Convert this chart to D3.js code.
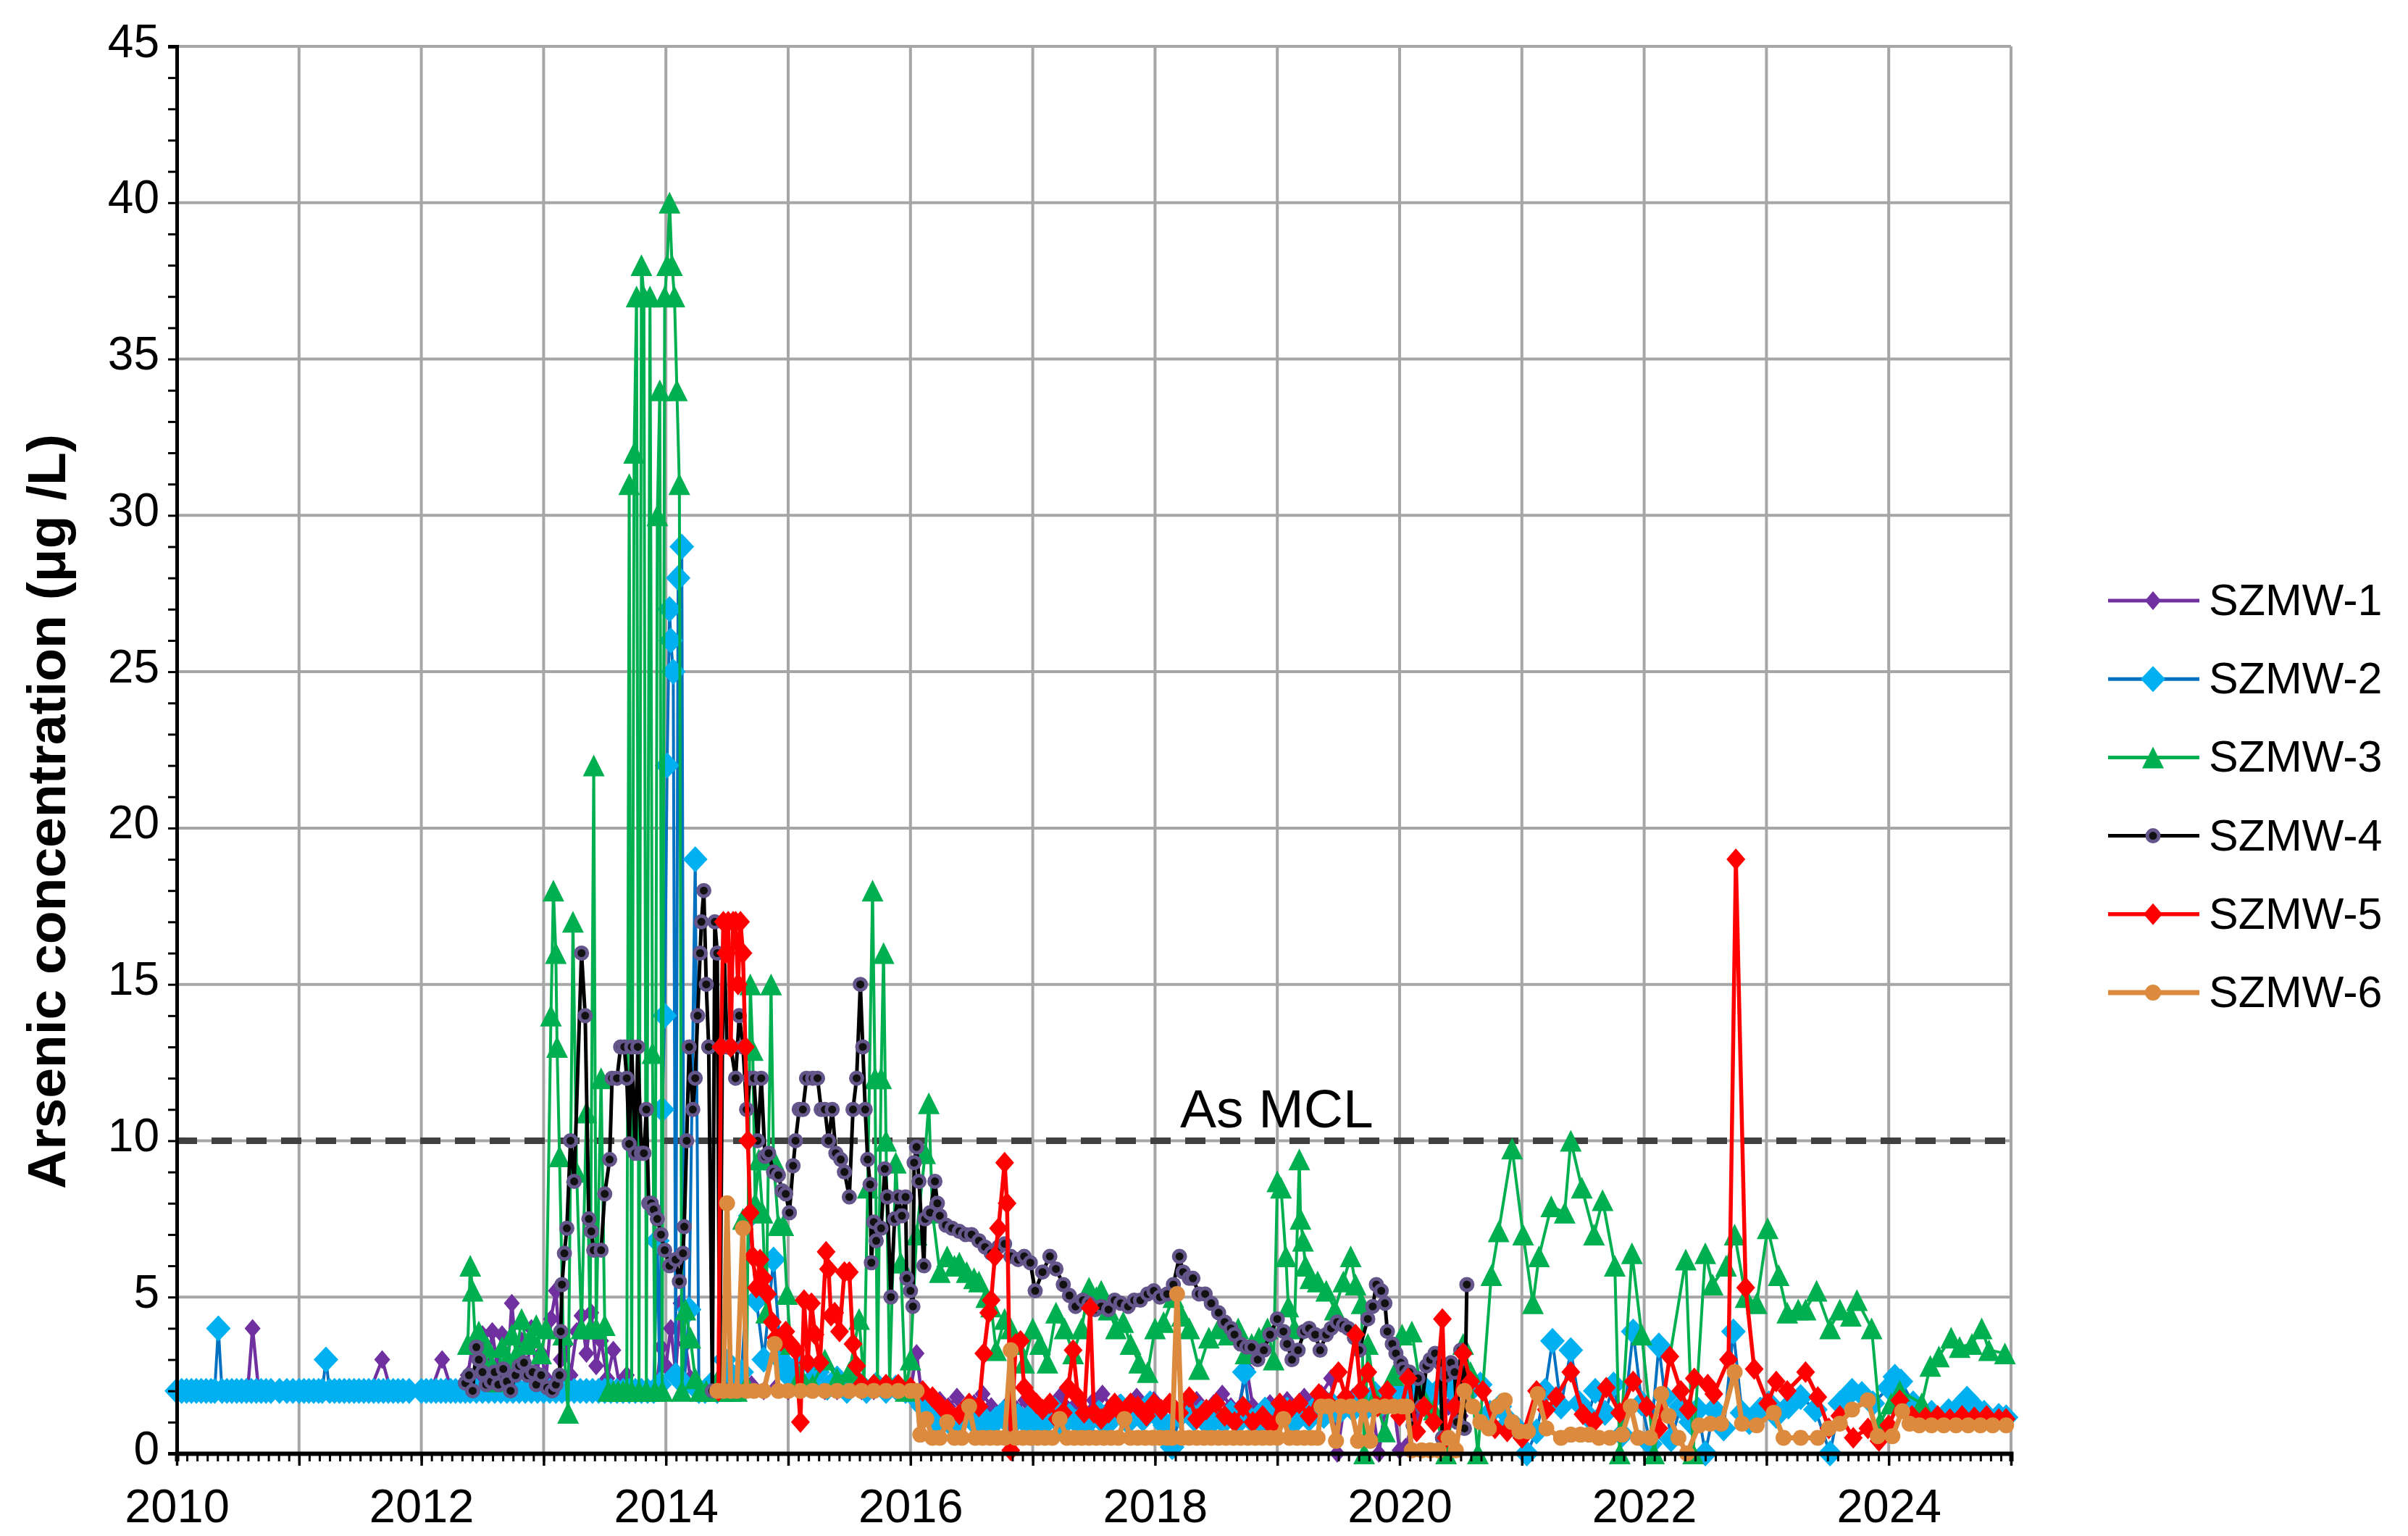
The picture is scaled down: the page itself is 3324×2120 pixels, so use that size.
<!DOCTYPE html>
<html>
<head>
<meta charset="utf-8">
<script src="https://cdn.jsdelivr.net/npm/d3@7"></script>
<style>
  body { margin: 0; background: #ffffff; }
  text { font-family: "Liberation Sans", Arial, sans-serif; fill: #000; }
</style>
</head>
<body>
<svg id="chart" width="3324" height="2120"></svg>
<script>
// Valores: [año decimal, µg/L]
const szmw1 = [
  [2010.00,2],[2010.08,2],[2010.17,2],[2010.25,2],[2010.33,2],[2010.42,2],[2010.50,2],[2010.58,2],[2010.62,4],[2010.67,2],[2010.75,2],[2010.83,2],[2010.92,2],
  [2011.00,2],[2011.08,2],[2011.17,2],[2011.25,2],[2011.33,2],[2011.42,2],[2011.50,2],[2011.58,2],[2011.68,3],[2011.75,2],[2011.83,2],[2011.92,2],
  [2012.00,2],[2012.08,2],[2012.17,3],[2012.25,2],[2012.33,2],[2012.38,2.5],[2012.42,3.5],[2012.46,2.2],[2012.50,3.8],[2012.54,2.5],[2012.58,3.9],[2012.62,2.8],[2012.66,3.8],[2012.70,2.4],[2012.74,4.8],[2012.78,3.0],[2012.82,3.6],[2012.86,2.5],[2012.90,4.0],[2012.94,2.6],[2012.98,3.2],
  [2013.02,2.4],[2013.06,4.3],[2013.10,5.2],[2013.14,3.0],[2013.18,3.5],[2013.22,2.5],[2013.27,3.9],[2013.31,4.4],[2013.35,3.2],[2013.39,4.5],[2013.43,2.8],[2013.47,3.6],[2013.52,2.4],[2013.57,3.3],[2013.62,2.2],[2013.68,2.5],[2013.74,2.0],[2013.80,2.1],[2013.86,2.0],[2013.92,2.0],[2013.96,3.4],
  [2014.00,2.8],[2014.04,4.0],[2014.08,2.6],[2014.12,4.8],[2014.16,3.5],[2014.20,2.4],[2014.26,2.0],[2014.34,2.0],[2014.42,2.0],[2014.50,2.1],[2014.60,2.0],[2014.70,2.2],[2014.80,2.0],[2014.90,2.1],
  [2015.00,2.0],[2015.10,2.0],[2015.20,2.1],[2015.30,2.0],[2015.40,2.0],[2015.50,2.1],[2015.60,2.0],[2015.70,2.0],[2015.80,2.1],[2015.90,2.0],[2016.00,2.0],[2016.05,3.2],
  [2016.10,1.6],[2016.17,1.4],[2016.24,1.7],[2016.31,1.5],[2016.38,1.8],[2016.45,1.4],[2016.52,1.6],[2016.59,1.9],[2016.66,1.5],[2016.73,1.3],[2016.80,1.6],[2016.87,1.4],[2016.94,1.7],
  [2017.01,1.5],[2017.08,1.3],[2017.15,1.6],[2017.22,1.8],[2017.29,1.4],[2017.36,1.6],[2017.43,1.3],[2017.50,1.7],[2017.57,1.9],[2017.64,1.5],[2017.71,1.6],[2017.78,1.4],[2017.85,1.8],[2017.92,1.5],[2017.99,1.7],
  [2018.06,1.4],[2018.13,1.6],[2018.20,1.3],[2018.27,1.5],[2018.34,1.7],[2018.41,1.4],[2018.48,1.6],[2018.55,1.9],[2018.62,1.5],[2018.68,1.4],[2018.75,2.7],[2018.80,1.5],[2018.87,1.3],[2018.94,1.6],
  [2019.01,1.4],[2019.08,1.7],[2019.15,1.5],[2019.22,1.8],[2019.29,1.6],[2019.36,1.9],[2019.44,2.4],[2019.49,0.0],[2019.55,1.6],[2019.62,1.8],[2019.70,1.5],[2019.78,1.4],[2019.83,0.0],[2019.88,1.4],[2019.95,1.6],
  [2020.00,0.1],[2020.05,0.2],[2020.12,1.2],[2020.20,1.5],[2020.30,1.8],[2020.40,1.5],[2020.50,1.2]
];

const szmw2 = [
  [2010.00,2],[2010.04,2],[2010.08,2],[2010.12,2],[2010.16,2],[2010.20,2],[2010.24,2],[2010.28,2],[2010.31,2],[2010.34,4],[2010.37,2],[2010.41,2],[2010.45,2],[2010.49,2],[2010.53,2],[2010.57,2],[2010.61,2],[2010.65,2],[2010.69,2],[2010.73,2],[2010.77,2],[2010.84,2],[2010.90,2],[2010.95,2],
  [2011.00,2],[2011.04,2],[2011.08,2],[2011.12,2],[2011.16,2],[2011.19,2],[2011.22,3],[2011.25,2],[2011.29,2],[2011.33,2],[2011.37,2],[2011.41,2],[2011.45,2],[2011.49,2],[2011.53,2],[2011.57,2],[2011.61,2],[2011.65,2],[2011.69,2],[2011.73,2],[2011.77,2],[2011.81,2],[2011.85,2],[2011.90,2],
  [2012.00,2],[2012.04,2],[2012.08,2],[2012.12,2],[2012.16,2],[2012.20,2],[2012.24,2],[2012.28,2],[2012.32,2],[2012.36,2],[2012.40,2],[2012.45,2],[2012.50,2],[2012.55,2],[2012.60,2],[2012.65,2],[2012.70,2],[2012.75,2],[2012.80,2],[2012.85,2],[2012.90,2],[2012.95,2],
  [2013.00,2],[2013.05,2],[2013.10,2],[2013.15,2],[2013.20,2],[2013.25,2],[2013.30,2],[2013.35,2],[2013.40,2],[2013.45,2],[2013.50,2],[2013.55,2],[2013.60,2],[2013.65,2],[2013.70,2],[2013.75,2],[2013.80,2],[2013.85,2],[2013.90,2],
  [2013.93,6.8],[2013.95,2.2],[2013.97,11],[2013.99,14],[2014.01,22],[2014.03,27],[2014.04,26],[2014.06,25],[2014.08,2.5],[2014.10,28],[2014.13,29],[2014.15,2.2],[2014.19,4.6],[2014.24,19],[2014.27,2],
  [2014.32,2],[2014.37,2.2],[2014.42,2],[2014.48,3],[2014.54,2.5],[2014.62,2.6],[2014.69,7.6],[2014.74,4.9],[2014.80,3],[2014.88,6.2],[2014.94,3],
  [2015.00,2.5],[2015.08,2.8],[2015.16,2.2],[2015.24,2.6],[2015.32,2.1],[2015.40,2.4],[2015.48,2.0],[2015.56,2.3],[2015.64,2.0],[2015.72,2.2],[2015.80,2.0],[2015.88,2.1],[2015.96,2.0],[2016.04,1.8],
  [2016.10,1.5],[2016.16,1.2],[2016.22,1.0],[2016.28,1.3],[2016.34,0.9],[2016.40,1.1],[2016.46,1.4],[2016.52,1.0],[2016.58,1.2],[2016.64,0.8],[2016.70,1.1],[2016.76,1.3],[2016.82,0.9],[2016.88,1.2],[2016.94,1.0],
  [2017.00,1.3],[2017.06,0.8],[2017.12,1.1],[2017.18,1.4],[2017.24,0.9],[2017.30,1.2],[2017.36,1.0],[2017.42,0.7],[2017.48,1.1],[2017.54,1.3],[2017.60,0.9],[2017.66,1.2],[2017.72,1.5],[2017.78,1.0],[2017.84,1.3],[2017.90,1.1],[2017.96,1.6],
  [2018.02,1.2],[2018.08,0.9],[2018.14,0.2],[2018.20,1.2],[2018.26,1.4],[2018.32,1.1],[2018.38,1.3],[2018.44,0.9],[2018.50,1.2],[2018.56,1.0],[2018.62,1.3],[2018.68,1.0],[2018.73,2.6],[2018.78,1.1],[2018.84,0.9],[2018.90,1.4],[2018.96,1.1],
  [2019.02,1.2],[2019.08,1.4],[2019.14,1.0],[2019.20,1.3],[2019.26,1.1],[2019.32,1.5],[2019.38,1.2],[2019.44,1.6],[2019.50,1.3],[2019.56,1.7],[2019.62,1.4],[2019.68,1.8],[2019.74,1.5],[2019.80,1.9],[2019.86,1.6],[2019.92,1.8],[2019.98,2.0],
  [2020.05,1.7],[2020.12,1.9],[2020.20,2.1],[2020.28,1.8],[2020.36,2.2],[2020.44,2.0],[2020.52,2.4],[2020.60,2.1],[2020.66,2.2],[2020.74,1.3],[2020.82,1.5],[2020.90,1.0],[2020.96,0.8],
  [2021.04,0.0],[2021.12,0.7],[2021.19,2.0],[2021.25,3.6],[2021.32,1.5],[2021.40,3.3],[2021.47,1.6],[2021.54,1.2],[2021.60,2.0],[2021.68,1.3],[2021.75,2.2],[2021.82,0.6],[2021.91,3.9],[2021.98,1.6],
  [2022.05,0.3],[2022.12,3.45],[2022.17,1.8],[2022.22,0.45],[2022.30,1.5],[2022.38,1.0],[2022.44,1.4],[2022.50,0.0],[2022.57,1.4],[2022.65,0.8],[2022.73,3.9],[2022.80,1.3],[2022.86,1.0],[2022.95,1.4],
  [2023.02,1.6],[2023.08,1.2],[2023.18,1.5],[2023.28,1.8],[2023.40,1.4],[2023.52,0.0],[2023.60,1.6],[2023.70,2.0],[2023.78,1.9],[2023.87,1.6],
  [2024.00,2.1],[2024.05,2.45],[2024.10,2.3],[2024.20,1.6],[2024.35,1.3],[2024.49,1.35],[2024.58,1.5],[2024.64,1.75],[2024.70,1.5],[2024.78,1.3],[2024.90,1.2],[2024.96,1.15]
];

const szmw3 = [
  [2012.38,3.5],[2012.40,6.0],[2012.42,5.2],[2012.44,3.7],[2012.47,3.9],[2012.50,3.0],[2012.54,3.4],[2012.58,2.8],[2012.62,2.3],[2012.66,3.4],[2012.70,3.0],[2012.74,3.8],[2012.78,3.2],[2012.82,4.3],[2012.86,3.5],[2012.90,3.7],[2012.94,4.1],[2012.98,3.2],
  [2013.02,4.0],[2013.06,14],[2013.08,18],[2013.10,16],[2013.11,13],[2013.13,9.5],[2013.16,3.8],[2013.20,1.3],[2013.24,17],[2013.27,9.0],[2013.31,4.0],[2013.35,10.9],[2013.38,4.0],[2013.41,22],[2013.43,4.0],[2013.47,12],[2013.50,4.1],
  [2013.53,2],[2013.57,2],[2013.61,2],[2013.65,2],[2013.68,2],[2013.70,31],[2013.72,2],[2013.74,32],[2013.76,37],[2013.78,2],[2013.80,38],[2013.82,37],[2013.84,2],[2013.87,37],[2013.89,12.8],[2013.91,2],[2013.93,30],[2013.95,34],[2013.97,2],
  [2013.99,37],[2014.01,38],[2014.03,40],[2014.05,38],[2014.07,37],[2014.09,34],[2014.11,31],[2014.13,2],[2014.16,4.6],[2014.20,3.7],[2014.24,2.4],[2014.28,2],
  [2014.33,2],[2014.38,2],[2014.43,2.4],[2014.48,2],[2014.53,2],[2014.58,2],[2014.63,7.5],[2014.66,2.2],[2014.69,15],[2014.71,12.9],[2014.73,8],[2014.76,9.4],[2014.79,7.7],[2014.82,4.5],[2014.86,15],[2014.88,9.4],[2014.92,7.3],[2014.96,7.3],[2014.99,5.1],
  [2015.02,3.5],[2015.10,2.5],[2015.20,2.2],[2015.30,3.0],[2015.40,2.4],[2015.50,2.6],[2015.58,4.3],[2015.62,2.2],[2015.65,8.5],[2015.69,18],[2015.71,12],[2015.73,2.2],[2015.76,12],[2015.78,16],[2015.80,10],[2015.83,2.2],[2015.88,9.3],[2015.92,6.1],[2015.96,2.0],
  [2016.00,3.0],[2016.05,7.0],[2016.12,9.6],[2016.15,11.2],[2016.18,7.7],[2016.24,5.8],[2016.30,6.3],[2016.36,6.0],[2016.40,6.1],[2016.46,5.8],[2016.52,5.6],[2016.56,5.5],[2016.62,5.0],[2016.66,4.7],[2016.70,3.3],[2016.77,4.3],[2016.82,4.0],[2016.87,3.5],[2016.93,2.9],
  [2017.00,4.0],[2017.06,3.5],[2017.12,2.9],[2017.19,4.5],[2017.26,4.0],[2017.33,3.2],[2017.40,4.0],[2017.46,5.3],[2017.52,5.0],[2017.56,5.2],[2017.62,4.6],[2017.68,4.0],[2017.74,4.2],[2017.80,3.5],[2017.87,2.9],[2017.94,2.6],
  [2018.00,4.0],[2018.07,4.2],[2018.15,5.0],[2018.22,4.4],[2018.28,4.0],[2018.36,2.7],[2018.44,3.7],[2018.52,4.0],[2018.60,3.8],[2018.68,4.0],[2018.74,3.2],[2018.79,3.5],[2018.85,3.7],[2018.92,4.0],[2018.97,3.0],
  [2019.00,8.7],[2019.03,8.5],[2019.07,6.3],[2019.09,4.7],[2019.14,4.0],[2019.18,9.4],[2019.19,7.5],[2019.21,6.8],[2019.23,6.0],[2019.27,5.6],[2019.33,5.5],[2019.40,5.2],[2019.47,4.6],[2019.54,5.5],[2019.60,6.3],[2019.64,5.4],[2019.69,4.8],[2019.71,0.0],[2019.74,3.5],[2019.80,1.8],[2019.88,0.7],[2019.95,2.5],
  [2020.02,3.8],[2020.10,3.9],[2020.18,1.9],[2020.28,1.4],[2020.38,0.0],[2020.52,3.5],[2020.58,2.6],[2020.64,0.0],[2020.75,5.7],[2020.81,7.1],[2020.92,9.75],
  [2021.01,7.0],[2021.09,4.8],[2021.14,6.3],[2021.24,7.9],[2021.35,7.7],[2021.40,10.0],[2021.49,8.5],[2021.59,7.0],[2021.66,8.1],[2021.76,6.0],[2021.80,0.0],[2021.90,6.4],[2021.98,3.8],
  [2022.08,0.0],[2022.34,6.2],[2022.40,0.0],[2022.50,6.4],[2022.56,5.4],[2022.67,6.0],[2022.74,7.0],[2022.83,5.0],[2022.92,4.8],
  [2023.01,7.2],[2023.10,5.7],[2023.17,4.5],[2023.26,4.6],[2023.32,4.6],[2023.41,5.2],[2023.52,4.0],[2023.60,4.6],[2023.69,4.4],[2023.74,4.9],[2023.86,4.0],[2023.93,1.0],
  [2024.02,1.6],[2024.09,2.0],[2024.27,1.6],[2024.34,2.8],[2024.41,3.1],[2024.51,3.7],[2024.58,3.4],[2024.68,3.5],[2024.76,4.0],[2024.82,3.3],[2024.95,3.2]
];

const szmw4 = [
  [2012.36,2.25],[2012.39,2.5],[2012.42,2.0],[2012.45,3.4],[2012.47,3.0],[2012.50,2.6],[2012.53,2.2],[2012.57,2.3],[2012.60,2.6],[2012.63,2.2],[2012.67,2.7],[2012.70,2.3],[2012.73,2.0],[2012.77,2.5],[2012.80,2.8],[2012.84,2.9],[2012.87,2.5],[2012.91,2.6],[2012.94,2.2],[2012.98,2.5],
  [2013.03,2.1],[2013.07,2.0],[2013.10,2.2],[2013.13,2.5],[2013.14,3.9],[2013.15,5.4],[2013.17,6.4],[2013.19,7.2],[2013.22,10],[2013.25,8.7],[2013.31,16],[2013.34,14],[2013.37,7.5],[2013.39,7.1],[2013.41,6.5],[2013.47,6.5],[2013.50,8.3],[2013.54,9.4],[2013.56,12],[2013.60,12],
  [2013.63,13],[2013.66,13],[2013.68,12],[2013.70,9.9],[2013.72,13],[2013.75,9.6],[2013.77,13],[2013.80,9.6],[2013.82,9.6],[2013.84,11],[2013.86,8.0],[2013.88,8.0],[2013.90,7.8],[2013.93,7.5],[2013.96,7.0],[2013.99,6.5],
  [2014.03,6.0],[2014.08,6.2],[2014.11,5.5],[2014.14,6.4],[2014.15,7.25],[2014.17,10],[2014.19,13],[2014.22,11],[2014.24,12],[2014.26,14],[2014.28,16],[2014.29,17],[2014.31,18],[2014.33,15],[2014.35,13],[2014.38,2],[2014.40,17],[2014.42,16],[2014.44,2],[2014.47,17],
  [2014.50,13],[2014.53,13],[2014.57,12],[2014.60,14],[2014.63,13],[2014.66,11],[2014.69,12],[2014.72,12],[2014.75,10],[2014.78,12],[2014.81,9.5],[2014.84,9.6],[2014.88,9.0],[2014.92,8.9],[2014.95,8.4],[2014.98,8.3],
  [2015.01,7.7],[2015.04,9.2],[2015.06,10],[2015.09,11],[2015.12,11],[2015.15,12],[2015.20,12],[2015.24,12],[2015.27,11],[2015.30,11],[2015.33,10],[2015.36,11],[2015.39,9.6],[2015.43,9.4],[2015.46,9.0],[2015.50,8.2],[2015.53,11],[2015.56,12],[2015.59,15],[2015.61,13],[2015.63,11],[2015.65,9.4],[2015.67,8.6],[2015.68,6.1],[2015.70,7.4],[2015.72,6.8],[2015.76,7.2],[2015.79,9.1],[2015.81,8.2],[2015.84,5.0],[2015.87,7.5],[2015.90,8.2],[2015.93,7.6],[2015.96,8.2],[2015.97,5.6],
  [2016.00,5.2],[2016.02,4.7],[2016.03,9.3],[2016.05,9.8],[2016.07,8.7],[2016.11,6.0],[2016.12,7.5],[2016.16,7.7],[2016.20,8.7],[2016.22,8.0],[2016.24,7.6],[2016.29,7.3],[2016.34,7.2],[2016.40,7.1],[2016.45,7.0],[2016.50,7.0],[2016.56,6.8],[2016.61,6.6],[2016.66,6.4],[2016.72,6.6],[2016.77,6.7],[2016.82,6.3],[2016.88,6.2],[2016.93,6.3],[2016.98,6.1],
  [2017.02,5.2],[2017.08,5.8],[2017.14,6.3],[2017.19,5.9],[2017.25,5.4],[2017.30,5.05],[2017.35,4.7],[2017.41,4.9],[2017.46,4.8],[2017.51,4.6],[2017.56,4.7],[2017.62,4.6],[2017.67,4.9],[2017.72,4.8],[2017.78,4.7],[2017.83,4.9],[2017.88,4.9],[2017.94,5.1],[2017.99,5.2],
  [2018.04,5.0],[2018.10,5.1],[2018.15,5.4],[2018.20,6.3],[2018.23,5.8],[2018.28,5.6],[2018.31,5.6],[2018.36,5.1],[2018.41,5.1],[2018.46,4.8],[2018.52,4.5],[2018.57,4.2],[2018.62,4.0],[2018.65,3.8],[2018.70,3.5],[2018.75,3.4],[2018.79,3.4],[2018.84,3.0],[2018.89,3.3],[2018.94,3.8],
  [2019.00,4.3],[2019.05,3.9],[2019.08,3.5],[2019.12,3.0],[2019.17,3.3],[2019.22,3.9],[2019.26,4.0],[2019.31,3.8],[2019.35,3.3],[2019.40,3.8],[2019.44,4.0],[2019.49,4.2],[2019.54,4.1],[2019.58,4.0],[2019.63,3.7],[2019.67,3.3],[2019.74,4.3],[2019.78,4.7],[2019.81,5.4],[2019.85,5.2],[2019.88,4.8],[2019.90,3.9],[2019.94,3.5],[2019.97,3.2],
  [2020.01,2.9],[2020.03,2.7],[2020.06,2.5],[2020.08,2.6],[2020.11,0.9],[2020.15,2.4],[2020.18,1.5],[2020.22,2.8],[2020.25,3.0],[2020.29,3.2],[2020.33,2.9],[2020.35,0.5],[2020.38,2.5],[2020.42,2.9],[2020.45,2.6],[2020.47,1.0],[2020.50,3.3],[2020.53,0.8],[2020.55,5.4]
];

const szmw5 = [
  [2014.43,2],[2014.45,13],[2014.47,17],[2014.49,16],[2014.51,17],[2014.53,13],[2014.55,17],[2014.57,17],[2014.59,15],[2014.61,17],[2014.63,16],[2014.65,13],[2014.67,10],[2014.69,7.7],[2014.71,6.3],[2014.74,5.3],[2014.77,6.2],[2014.80,5.6],[2014.83,5.1],[2014.87,4.2],[2014.90,3.7],[2014.94,3.6],[2014.98,3.9],
  [2015.02,3.5],[2015.06,3.3],[2015.10,1.0],[2015.13,4.9],[2015.16,2.9],[2015.19,4.8],[2015.22,3.8],[2015.26,2.9],[2015.31,6.45],[2015.33,5.9],[2015.35,4.4],[2015.38,4.5],[2015.42,3.9],[2015.46,5.8],[2015.50,5.8],[2015.53,3.5],[2015.56,2.8],[2015.60,2.2],[2015.70,2.2],[2015.80,2.2],[2015.90,2.2],
  [2016.00,2.1],[2016.10,2.0],[2016.18,1.8],[2016.25,1.5],[2016.30,1.4],[2016.40,1.25],[2016.48,1.6],[2016.56,1.5],[2016.60,3.2],[2016.64,4.5],[2016.66,4.9],[2016.69,6.3],[2016.72,7.2],[2016.77,9.3],[2016.79,8.0],[2016.82,0.1],[2016.86,3.5],[2016.90,3.6],[2016.93,2.1],[2016.98,1.8],
  [2017.03,1.6],[2017.08,1.4],[2017.14,1.6],[2017.20,1.1],[2017.25,1.3],[2017.29,2.1],[2017.33,3.3],[2017.37,1.8],[2017.42,1.3],[2017.47,4.65],[2017.50,1.3],[2017.56,1.1],[2017.62,1.3],[2017.67,1.6],[2017.72,1.3],[2017.80,1.6],[2017.86,1.5],[2017.93,1.2],[2017.99,1.6],
  [2018.05,1.4],[2018.12,1.6],[2018.20,1.3],[2018.28,1.8],[2018.34,1.1],[2018.42,1.4],[2018.50,1.6],[2018.57,1.2],[2018.65,1.0],[2018.72,1.5],[2018.80,1.0],[2018.88,1.2],[2018.95,0.9],
  [2019.02,1.6],[2019.10,1.4],[2019.18,1.6],[2019.26,1.2],[2019.34,1.9],[2019.42,1.6],[2019.50,2.6],[2019.56,1.8],[2019.64,3.8],[2019.68,2.0],[2019.74,2.6],[2019.82,1.5],[2019.90,2.0],
  [2020.00,1.2],[2020.07,2.4],[2020.14,0.7],[2020.20,1.5],[2020.28,1.0],[2020.35,4.3],[2020.38,0.5],[2020.45,1.5],[2020.52,3.2],[2020.58,2.3],[2020.68,2.0],[2020.78,0.8],[2020.88,0.7],
  [2021.00,0.5],[2021.12,2.0],[2021.20,1.4],[2021.28,1.8],[2021.40,2.6],[2021.50,1.25],[2021.59,1.0],[2021.69,2.1],[2021.80,1.3],[2021.91,2.3],
  [2022.02,1.5],[2022.12,0.8],[2022.21,3.1],[2022.30,2.0],[2022.36,1.4],[2022.41,2.4],[2022.52,2.2],[2022.57,1.9],[2022.69,3.0],[2022.75,19.0],[2022.83,5.3],[2022.90,2.7],
  [2023.01,1.6],[2023.08,2.3],[2023.17,2.0],[2023.32,2.6],[2023.42,1.8],[2023.51,0.8],[2023.60,1.2],[2023.71,0.5],[2023.83,0.8],[2023.92,0.4],
  [2024.00,0.9],[2024.09,1.7],[2024.19,1.2],[2024.30,1.15],[2024.40,1.2],[2024.50,1.1],[2024.60,1.2],[2024.70,1.15],[2024.80,1.2],[2024.90,1.1],[2024.96,1.1]
];

const szmw6 = [
  [2014.42,2],[2014.47,2],[2014.50,8.0],[2014.53,2],[2014.58,2],[2014.63,7.2],[2014.66,2],[2014.72,2],[2014.80,2],[2014.89,3.5],[2014.92,2],
  [2015.00,2],[2015.10,2],[2015.20,2],[2015.30,2],[2015.40,2],[2015.50,2],[2015.60,2],[2015.70,2],[2015.80,2],[2015.90,2],[2016.00,2],[2016.05,2],
  [2016.08,0.6],[2016.13,1.1],[2016.18,0.5],[2016.24,0.5],[2016.30,1.0],[2016.36,0.5],[2016.42,0.5],[2016.48,1.5],[2016.53,0.5],[2016.59,0.5],[2016.65,0.5],[2016.71,0.5],[2016.77,0.5],[2016.82,3.3],[2016.86,0.5],[2016.92,0.5],[2016.98,0.5],
  [2017.04,0.5],[2017.10,0.5],[2017.16,0.5],[2017.22,1.1],[2017.28,0.5],[2017.34,0.5],[2017.40,0.5],[2017.46,0.5],[2017.52,0.5],[2017.58,0.5],[2017.64,0.5],[2017.70,0.5],[2017.75,1.1],[2017.80,0.5],[2017.86,0.5],[2017.92,0.5],[2017.98,0.5],
  [2018.04,0.5],[2018.10,0.5],[2018.14,0.5],[2018.18,5.1],[2018.22,0.5],[2018.28,0.5],[2018.34,0.5],[2018.40,0.5],[2018.46,0.5],[2018.52,0.5],[2018.58,0.5],[2018.64,0.5],[2018.70,0.5],[2018.76,0.5],[2018.82,0.5],[2018.88,0.5],[2018.94,0.5],
  [2019.00,0.5],[2019.05,1.1],[2019.10,0.5],[2019.16,0.5],[2019.22,0.5],[2019.28,0.5],[2019.33,0.5],[2019.36,1.5],[2019.42,1.5],[2019.48,0.4],[2019.52,1.5],[2019.60,1.5],[2019.66,0.4],[2019.70,1.5],[2019.76,0.4],[2019.80,1.5],[2019.88,1.5],[2019.95,1.5],
  [2020.02,1.5],[2020.06,1.5],[2020.10,0.1],[2020.18,0.1],[2020.25,0.1],[2020.32,0.1],[2020.40,0.5],[2020.46,0.1],[2020.53,2.0],[2020.60,1.5],[2020.66,1.0],[2020.73,0.8],[2020.80,1.5],[2020.86,1.7],[2020.92,1.0],[2020.98,0.7],
  [2021.05,0.7],[2021.13,1.9],[2021.20,0.8],[2021.32,0.5],[2021.40,0.6],[2021.48,0.6],[2021.55,0.6],[2021.63,0.5],[2021.72,0.5],[2021.82,0.6],[2021.89,1.5],[2021.95,0.5],
  [2022.05,0.5],[2022.14,1.9],[2022.20,1.2],[2022.28,0.5],[2022.35,0.0],[2022.45,0.9],[2022.54,0.95],[2022.63,0.95],[2022.74,2.6],[2022.80,0.95],[2022.92,0.9],
  [2023.06,1.3],[2023.14,0.5],[2023.28,0.5],[2023.42,0.5],[2023.51,0.8],[2023.60,0.95],[2023.70,1.4],[2023.83,1.7],[2023.91,0.55],
  [2024.03,0.55],[2024.11,1.35],[2024.17,0.95],[2024.25,0.9],[2024.35,0.9],[2024.45,0.9],[2024.55,0.9],[2024.65,0.9],[2024.75,0.9],[2024.85,0.9],[2024.96,0.9]
];

const seriesNames = ["SZMW-1", "SZMW-2", "SZMW-3", "SZMW-4", "SZMW-5", "SZMW-6"];
const seriesData = [szmw1, szmw2, szmw3, szmw4, szmw5, szmw6];
const yLabelValues = [0, 5, 10, 15, 20, 25, 30, 35, 40, 45];
const xLabelYears = [2010, 2012, 2014, 2016, 2018, 2020, 2022, 2024];
const mclValue = 10;
const mclText = "As MCL";
const yTitle = "Arsenic concentration (μg /L)";

// estilos de cada serie (línea y marcador)
const styles = [
  { line: "#7030A0", lw: 4.5, shape: "diamond",  w: 11, h: 13, fill: "#7030A0" },
  { line: "#0070C0", lw: 4,   shape: "diamond",  w: 17, h: 18, fill: "#00B0F0" },
  { line: "#00B050", lw: 4,   shape: "triangle", s: 15, fill: "#00B050" },
  { line: "#000000", lw: 5,   shape: "circle",   r: 8,  fill: "#111111", stroke: "#64558A", sw: 5 },
  { line: "#FF0000", lw: 5.5, shape: "diamond",  w: 13, h: 15, fill: "#FF0000" },
  { line: "#DC8A3E", lw: 7,   shape: "circle",   r: 11, fill: "#DC8A3E" }
];

function markerPath(st) {
  if (st.shape === "diamond") return `M0,${-st.h}L${st.w},0L0,${st.h}L${-st.w},0Z`;
  if (st.shape === "triangle") return `M0,${-st.s}L${st.s},${st.s}L${-st.s},${st.s}Z`;
  return d3.arc()({ innerRadius: 0, outerRadius: st.r, startAngle: 0, endAngle: 2 * Math.PI });
}

function makeChart() {
  const svg = d3.select("#chart");
  const x = d3.scaleLinear().domain([2010, 2025]).range([244, 2776]);
  const y = d3.scaleLinear().domain([0, 45]).range([2006, 64]);

  // Rejilla
  const grid = svg.append("g").attr("stroke", "#A6A6A6").attr("stroke-width", 4);
  grid.selectAll("line.v").data(d3.range(2011, 2026)).enter().append("line")
    .attr("x1", d => x(d)).attr("x2", d => x(d))
    .attr("y1", y(45)).attr("y2", y(0));
  grid.selectAll("line.h").data(yLabelValues.filter(v => v > 0)).enter().append("line")
    .attr("x1", x(2010)).attr("x2", x(2025))
    .attr("y1", d => y(d)).attr("y2", d => y(d));

  // Línea MCL
  svg.append("line")
    .attr("x1", x(2010)).attr("x2", x(2025))
    .attr("y1", y(mclValue)).attr("y2", y(mclValue))
    .attr("stroke", "#404040").attr("stroke-width", 9)
    .attr("stroke-dasharray", "28,20");
  svg.append("text")
    .attr("x", 1629).attr("y", y(mclValue) - 18)
    .attr("font-size", 75)
    .text(mclText);

  // Series: línea y marcadores
  const lineMaker = d3.line().x(d => x(d[0])).y(d => y(d[1]));
  seriesData.forEach((data, i) => {
    const st = styles[i];
    const g = svg.append("g").attr("id", "s" + (i + 1));
    g.append("path")
      .attr("fill", "none").attr("stroke", st.line)
      .attr("stroke-width", st.lw).attr("stroke-linejoin", "round")
      .attr("d", lineMaker(data));
    g.selectAll("path.m").data(data).enter().append("path")
      .attr("class", "m")
      .attr("transform", d => `translate(${x(d[0])},${y(d[1])})`)
      .attr("d", markerPath(st))
      .attr("fill", st.fill)
      .attr("stroke", st.stroke || "none")
      .attr("stroke-width", st.sw || 0);
  });

  // Eje Y
  const yAxis = svg.append("g")
    .attr("transform", `translate(${x(2010)},0)`)
    .call(d3.axisLeft(y).tickValues(d3.range(0, 46, 1)).tickSize(12).tickPadding(12)
      .tickFormat(d => (d % 5 === 0 ? d : "")));
  yAxis.select(".domain").attr("stroke", "#000").attr("stroke-width", 5);
  yAxis.selectAll(".tick line").attr("stroke", "#000").attr("stroke-width", 3);
  yAxis.selectAll(".tick text")
    .attr("font-size", 64).attr("font-family", "Liberation Sans, Arial, sans-serif")
    .attr("fill", "#000").attr("dy", "0.22em");

  // Eje X: ticks mensuales y anuales
  const months = d3.range(0, 181).map(i => 2010 + i / 12);
  const xMinor = svg.append("g")
    .attr("transform", `translate(0,${y(0)})`)
    .call(d3.axisBottom(x).tickValues(months).tickSize(11).tickFormat(""));
  xMinor.select(".domain").attr("stroke", "#000").attr("stroke-width", 6);
  xMinor.selectAll(".tick line").attr("stroke", "#000").attr("stroke-width", 3);

  const xMajor = svg.append("g")
    .attr("transform", `translate(0,${y(0)})`)
    .call(d3.axisBottom(x).tickValues(d3.range(2010, 2026)).tickSize(17)
      .tickFormat(d => (xLabelYears.includes(d) ? d : "")));
  xMajor.select(".domain").remove();
  xMajor.selectAll(".tick line").attr("stroke", "#000").attr("stroke-width", 3.5);
  xMajor.selectAll(".tick text")
    .attr("font-size", 65).attr("font-family", "Liberation Sans, Arial, sans-serif")
    .attr("fill", "#000").attr("y", 95).attr("dy", 0);

  // Título del eje Y
  svg.append("text")
    .attr("transform", "translate(90,1120) rotate(-90)")
    .attr("text-anchor", "middle")
    .attr("font-size", 75).attr("font-weight", "bold")
    .text(yTitle);

  // Leyenda
  const legend = svg.append("g");
  seriesNames.forEach((name, i) => {
    const st = styles[i];
    const ly = 829 + i * 108.2;
    legend.append("line")
      .attr("x1", 2910).attr("x2", 3036).attr("y1", ly).attr("y2", ly)
      .attr("stroke", st.line).attr("stroke-width", Math.max(st.lw, 5));
    legend.append("path")
      .attr("transform", `translate(2972,${ly})`)
      .attr("d", markerPath(st))
      .attr("fill", st.fill)
      .attr("stroke", st.stroke || "none")
      .attr("stroke-width", st.sw || 0);
    legend.append("text")
      .attr("x", 3049).attr("y", ly + 20)
      .attr("font-size", 61)
      .text(name);
  });
}

makeChart();
</script>
</body>
</html>
